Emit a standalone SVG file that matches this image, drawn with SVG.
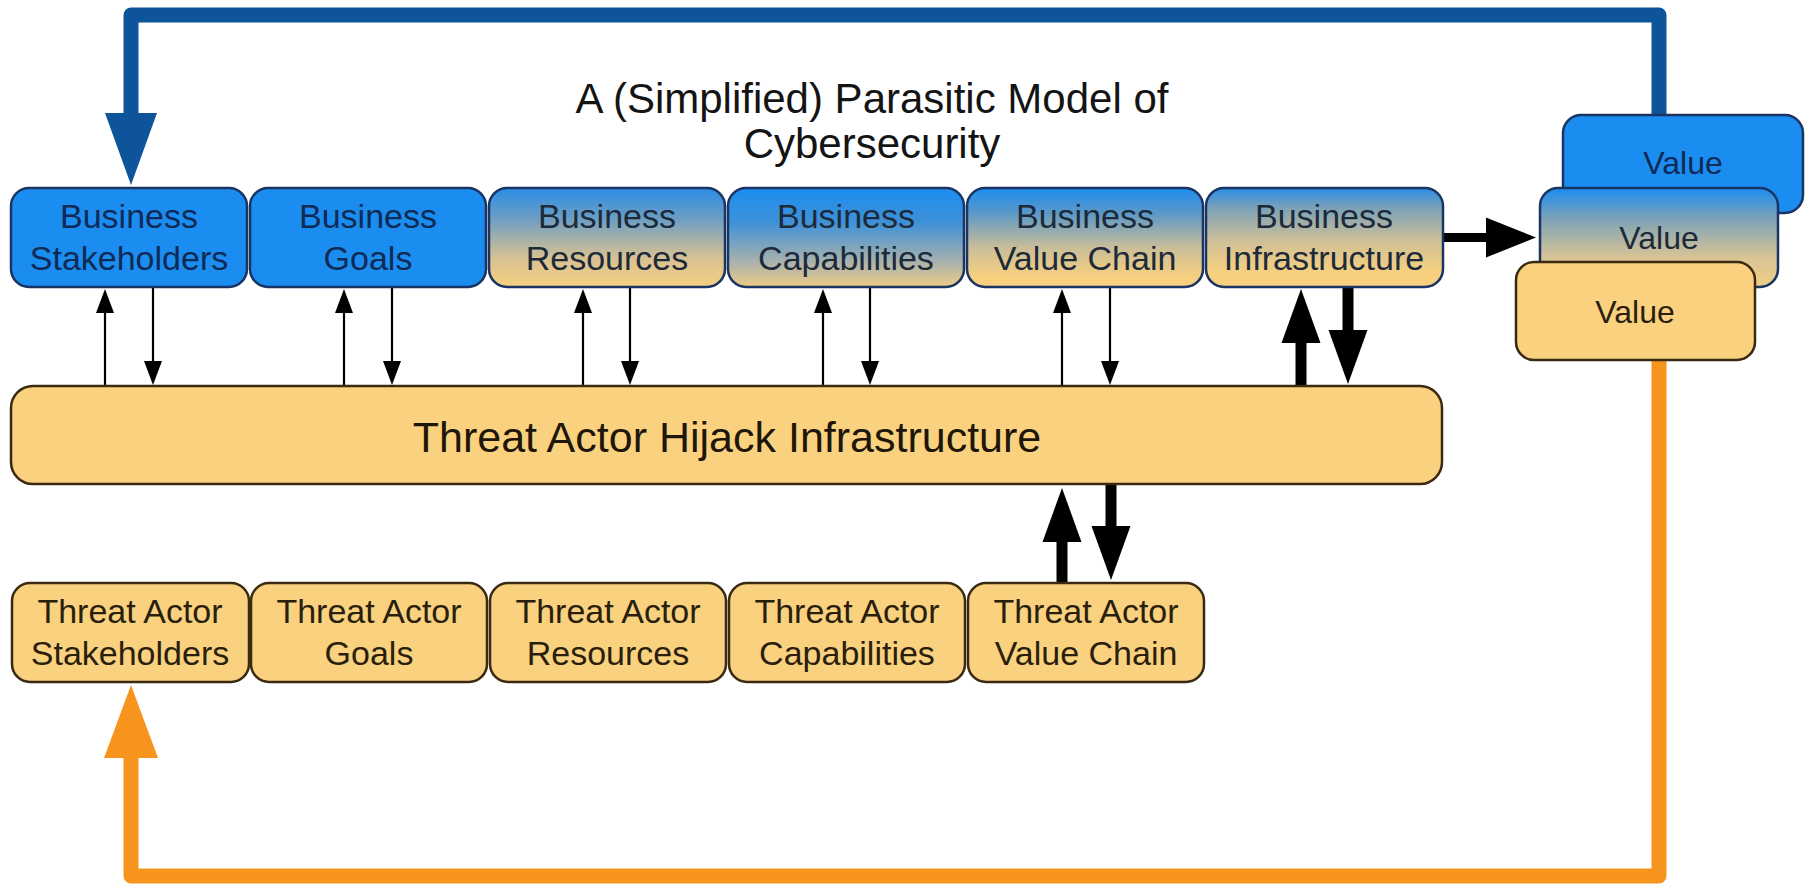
<svg xmlns="http://www.w3.org/2000/svg" width="1805" height="884" viewBox="0 0 1805 884">
  <style>
    .lbl { font-family: "Liberation Sans", Arial, Helvetica, sans-serif; font-size: 34px; text-anchor: middle; }
    .navy { fill: #0f2a55; }
    .mix { fill: #1d2a3a; }
    .brown { fill: #2a1f0c; }
    .title { font-family: "Liberation Sans", Arial, Helvetica, sans-serif; font-size: 42px; text-anchor: middle; fill: #141414; }
    .big { font-family: "Liberation Sans", Arial, Helvetica, sans-serif; font-size: 43px; text-anchor: middle; fill: #1e1608; }
    .val { font-family: "Liberation Sans", Arial, Helvetica, sans-serif; font-size: 32px; text-anchor: middle; }
    .boxB { stroke: #1a3563; stroke-width: 2.5; }
    .boxT { stroke: #3b2a12; stroke-width: 2.5; fill: #f9d17f; }
    .thin { stroke: #000; stroke-width: 2.2; fill: none; }
    .thick { stroke: #000; stroke-width: 11; fill: none; }
    .loopBlue { stroke: #0d549a; stroke-width: 15; fill: none; stroke-linejoin: round; }
    .loopOrange { stroke: #f7941d; stroke-width: 15; fill: none; stroke-linejoin: round; }
  </style>
  <defs>
    <linearGradient id="gRes" x1="0" y1="0" x2="0" y2="1">
      <stop offset="0" stop-color="#2b8de6"/>
      <stop offset="0.3" stop-color="#6a9dc4"/>
      <stop offset="0.7" stop-color="#d6c194"/>
      <stop offset="1" stop-color="#f7d07f"/>
    </linearGradient>
    <linearGradient id="gCap" x1="0" y1="0" x2="0" y2="1">
      <stop offset="0" stop-color="#1b8df0"/>
      <stop offset="0.35" stop-color="#3f91d8"/>
      <stop offset="0.75" stop-color="#a9b2ac"/>
      <stop offset="1" stop-color="#f0cc85"/>
    </linearGradient>
    <linearGradient id="gVc" x1="0" y1="0" x2="0" y2="1">
      <stop offset="0" stop-color="#1b8df0"/>
      <stop offset="0.25" stop-color="#5a98c8"/>
      <stop offset="0.6" stop-color="#c9bd99"/>
      <stop offset="0.9" stop-color="#f7d07f"/>
    </linearGradient>
    <linearGradient id="gInf" x1="0" y1="0" x2="0" y2="1">
      <stop offset="0" stop-color="#2a8de8"/>
      <stop offset="0.2" stop-color="#7ba1b8"/>
      <stop offset="0.55" stop-color="#d1c196"/>
      <stop offset="0.85" stop-color="#f7d07f"/>
    </linearGradient>
    <linearGradient id="gVal" x1="0" y1="0" x2="0" y2="1">
      <stop offset="0" stop-color="#1b8df0"/>
      <stop offset="0.3" stop-color="#7aa1b9"/>
      <stop offset="0.7" stop-color="#d8c495"/>
      <stop offset="1" stop-color="#f0cd85"/>
    </linearGradient>
    <!-- arrowheads: base sits at the end of the shaft, tip points forward -->
    <marker id="hThin" markerUnits="userSpaceOnUse" markerWidth="24" markerHeight="18" refX="0" refY="9" orient="auto" overflow="visible">
      <path d="M0,0 L24,9 L0,18 Z" fill="#000"/>
    </marker>
    <marker id="hThick" markerUnits="userSpaceOnUse" markerWidth="54" markerHeight="39" refX="0" refY="19.5" orient="auto" overflow="visible">
      <path d="M0,0 L54,19.5 L0,39 Z" fill="#000"/>
    </marker>
    <marker id="hRight" markerUnits="userSpaceOnUse" markerWidth="50" markerHeight="40" refX="0" refY="20" orient="auto" overflow="visible">
      <path d="M0,0 L50,20 L0,40 Z" fill="#000"/>
    </marker>
    <marker id="hBlue" markerUnits="userSpaceOnUse" markerWidth="72" markerHeight="52" refX="0" refY="26" orient="auto" overflow="visible">
      <path d="M0,0 L72,26 L0,52 Z" fill="#0d549a"/>
    </marker>
    <marker id="hOrange" markerUnits="userSpaceOnUse" markerWidth="73" markerHeight="54" refX="0" refY="27" orient="auto" overflow="visible">
      <path d="M0,0 L73,27 L0,54 Z" fill="#f7941d"/>
    </marker>
  </defs>

  <rect width="1805" height="884" fill="#ffffff"/>

  <!-- heading -->
  <g id="title">
    <text class="title" x="872" y="113">A (Simplified) Parasitic Model of</text>
    <text class="title" x="872" y="158">Cybersecurity</text>
  </g>

  <!-- feedback loops and flows -->
  <g id="connectors">
    <path class="loopBlue" d="M1659,116 V15 H131 V113" marker-end="url(#hBlue)"/>
    <path class="loopOrange" d="M1659,360 V876 H131 V758" marker-end="url(#hOrange)"/>

    <!-- business row <-> hijack infrastructure -->
    <path class="thin" d="M105,386 V313" marker-end="url(#hThin)"/>
    <path class="thin" d="M153,288 V361" marker-end="url(#hThin)"/>
    <path class="thin" d="M344,386 V313" marker-end="url(#hThin)"/>
    <path class="thin" d="M392,288 V361" marker-end="url(#hThin)"/>
    <path class="thin" d="M583,386 V313" marker-end="url(#hThin)"/>
    <path class="thin" d="M630,288 V361" marker-end="url(#hThin)"/>
    <path class="thin" d="M823,386 V313" marker-end="url(#hThin)"/>
    <path class="thin" d="M870,288 V361" marker-end="url(#hThin)"/>
    <path class="thin" d="M1062,386 V313" marker-end="url(#hThin)"/>
    <path class="thin" d="M1110,288 V361" marker-end="url(#hThin)"/>

    <path class="thick" d="M1301,386 V343" marker-end="url(#hThick)"/>
    <path class="thick" d="M1348,288 V330" marker-end="url(#hThick)"/>

    <!-- hijack infrastructure <-> threat actor value chain -->
    <path class="thick" d="M1062,583 V542" marker-end="url(#hThick)"/>
    <path class="thick" d="M1111,484 V526" marker-end="url(#hThick)"/>

    <!-- infrastructure -> value -->
    <path d="M1444,237.5 H1486" stroke="#000" stroke-width="9" fill="none" marker-end="url(#hRight)"/>
  </g>

  <!-- business row -->
  <g id="business-stakeholders">
    <rect class="boxB" x="11" y="188" width="236" height="99" rx="18" fill="#1b8df0"/>
    <text class="lbl navy" x="129" y="228">Business</text>
    <text class="lbl navy" x="129" y="270">Stakeholders</text>
  </g>
  <g id="business-goals">
    <rect class="boxB" x="250" y="188" width="236" height="99" rx="18" fill="#1b8df0"/>
    <text class="lbl navy" x="368" y="228">Business</text>
    <text class="lbl navy" x="368" y="270">Goals</text>
  </g>
  <g id="business-resources">
    <rect class="boxB" x="489" y="188" width="236" height="99" rx="18" fill="url(#gRes)"/>
    <text class="lbl mix" x="607" y="228">Business</text>
    <text class="lbl mix" x="607" y="270">Resources</text>
  </g>
  <g id="business-capabilities">
    <rect class="boxB" x="728" y="188" width="236" height="99" rx="18" fill="url(#gCap)"/>
    <text class="lbl mix" x="846" y="228">Business</text>
    <text class="lbl mix" x="846" y="270">Capabilities</text>
  </g>
  <g id="business-value-chain">
    <rect class="boxB" x="967" y="188" width="236" height="99" rx="18" fill="url(#gVc)"/>
    <text class="lbl mix" x="1085" y="228">Business</text>
    <text class="lbl mix" x="1085" y="270">Value Chain</text>
  </g>
  <g id="business-infrastructure">
    <rect class="boxB" x="1206" y="188" width="237" height="99" rx="18" fill="url(#gInf)"/>
    <text class="lbl mix" x="1324" y="228">Business</text>
    <text class="lbl mix" x="1324" y="270">Infrastructure</text>
  </g>

  <!-- value stack -->
  <g id="value-business">
    <rect class="boxB" x="1563" y="115" width="240" height="98" rx="18" fill="#1b8df0"/>
    <text class="val navy" x="1683" y="174">Value</text>
  </g>
  <g id="value-mixed">
    <rect class="boxB" x="1540" y="188" width="238" height="99" rx="18" fill="url(#gVal)"/>
    <text class="val mix" x="1659" y="249">Value</text>
  </g>
  <g id="value-threat">
    <rect class="boxT" x="1516" y="262" width="239" height="98" rx="18"/>
    <text class="val brown" x="1635" y="323">Value</text>
  </g>

  <!-- hijack layer -->
  <g id="hijack-infrastructure">
    <rect class="boxT" x="11" y="386" width="1431" height="98" rx="22"/>
    <text class="big" x="727" y="452">Threat Actor Hijack Infrastructure</text>
  </g>

  <!-- threat actor row -->
  <g id="ta-stakeholders">
    <rect class="boxT" x="12" y="583" width="237" height="99" rx="18"/>
    <text class="lbl brown" x="130" y="623">Threat Actor</text>
    <text class="lbl brown" x="130" y="665">Stakeholders</text>
  </g>
  <g id="ta-goals">
    <rect class="boxT" x="251" y="583" width="236" height="99" rx="18"/>
    <text class="lbl brown" x="369" y="623">Threat Actor</text>
    <text class="lbl brown" x="369" y="665">Goals</text>
  </g>
  <g id="ta-resources">
    <rect class="boxT" x="490" y="583" width="236" height="99" rx="18"/>
    <text class="lbl brown" x="608" y="623">Threat Actor</text>
    <text class="lbl brown" x="608" y="665">Resources</text>
  </g>
  <g id="ta-capabilities">
    <rect class="boxT" x="729" y="583" width="236" height="99" rx="18"/>
    <text class="lbl brown" x="847" y="623">Threat Actor</text>
    <text class="lbl brown" x="847" y="665">Capabilities</text>
  </g>
  <g id="ta-value-chain">
    <rect class="boxT" x="968" y="583" width="236" height="99" rx="18"/>
    <text class="lbl brown" x="1086" y="623">Threat Actor</text>
    <text class="lbl brown" x="1086" y="665">Value Chain</text>
  </g>
</svg>
